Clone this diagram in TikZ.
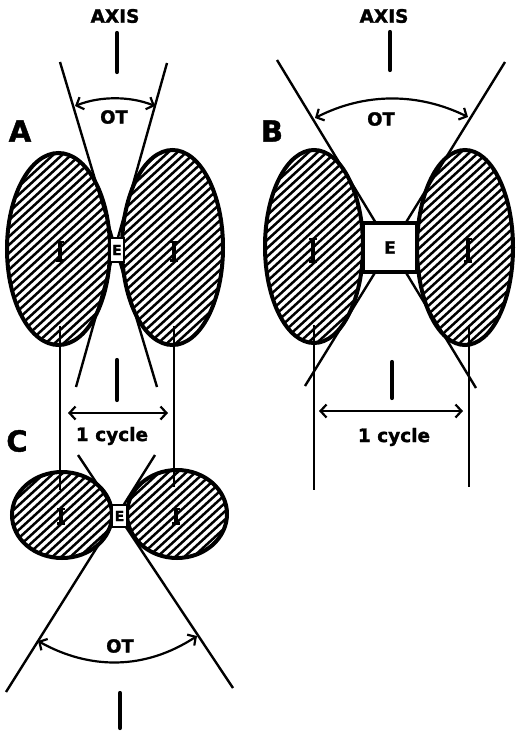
\documentclass[tikz,border=0pt]{standalone}
\usepackage{fontspec}
\setmainfont{DejaVu Sans}[BoldFeatures={FakeBold=1.5}]
\usetikzlibrary{arrows.meta}
\newcommand\hatchlobe[4]{%
  \begin{scope}[shift={(#1,#2)}]
    \begin{scope}
      \clip (0,0) ellipse ({#3} and {#4});
      \foreach \s in {-153,-144,...,153} \draw[hatch] (\s-120,110) -- (\s+120,-110);
    \end{scope}
    \draw[outline] (0,0) ellipse ({#3} and {#4});
  \end{scope}}
\newcommand\imark[3]{%
  \draw[line width=3.6pt] (#1,{#2-#3}) -- (#1,{#2+#3});
  \draw[line width=2.4pt] ({#1-4},{#2-#3+1.2}) -- ({#1+4},{#2-#3+1.2});
  \draw[line width=2.4pt] ({#1-4},{#2+#3-1.2}) -- ({#1+4},{#2+#3-1.2});}
\begin{document}
\begin{tikzpicture}[x=1pt,y=-1pt,
  outline/.style={line width=4pt},
  hatch/.style={line width=2.5pt},
  tline/.style={line width=2.4pt},
  tick/.style={line width=4.2pt, line cap=round},
  dimarrow/.style={line width=2.2pt, {Straight Barb[length=6pt,width=13pt]}-{Straight Barb[length=6pt,width=13pt]}},
  lab/.style={font=\bfseries\fontsize{29}{29}\selectfont, inner sep=0pt},
  txt/.style={font=\bfseries\fontsize{18.5}{18.5}\selectfont, inner sep=0pt},
  ottxt/.style={font=\bfseries\fontsize{18}{18}\selectfont, inner sep=0pt},
  ebox/.style={draw, fill=white, line width=2.6pt, inner sep=0pt},
]
\useasboundingbox (0,0) rectangle (515,732);

% ---------- Panel A ----------
\node[txt] (axisA) at (115,16) {AXIS};
\coordinate (tA1) at (117,33); \coordinate (tA2) at (117,72);
\draw[tick] (tA1) -- (tA2);
\node[lab] (labA) at (20,131) {A};
\hatchlobe{58.5}{249}{51.5}{96}
\hatchlobe{172.5}{247.5}{50.5}{97.5}
\coordinate (a1s) at (60,62);  \coordinate (a1e) at (157,387);
\coordinate (a2s) at (167,63); \coordinate (a2e) at (76,387);
\draw[tline] (a1s) -- (a1e);
\draw[tline] (a2s) -- (a2e);
\coordinate (va1) at (60,326);  \coordinate (va1e) at (60,490);
\coordinate (va2) at (174,326); \coordinate (va2e) at (174,487);
\draw[tline] (va1) -- (va1e);
\draw[tline] (va2) -- (va2e);
\node[ebox, minimum width=14pt, minimum height=24pt, font=\bfseries\fontsize{14}{14}\selectfont] (EA) at (117,250) {E};
\imark{60}{251}{10.5}
\imark{174}{251}{10.5}
\coordinate (otA1) at (75,106); \coordinate (otA2) at (155,106);
\draw[dimarrow] (otA1) .. controls (100,96) and (130,96) .. (otA2);
\node[ottxt] (otAt) at (114,117) {OT};
\coordinate (tA3) at (117,360); \coordinate (tA4) at (117,400);
\draw[tick] (tA3) -- (tA4);
\coordinate (cyA1) at (68,413); \coordinate (cyA2) at (168,413);
\draw[dimarrow] (cyA1) -- (cyA2);
\node[txt] (cycA) at (112,436) {1 cycle};

% ---------- Panel B ----------
\node[txt] (axisB) at (384,16) {AXIS};
\coordinate (tB1) at (390,32); \coordinate (tB2) at (390,70);
\draw[tick] (tB1) -- (tB2);
\node[lab] (labB) at (272,131) {B};
\hatchlobe{314}{246.5}{49}{96.5}
\hatchlobe{465}{247.5}{48}{97.5}
\coordinate (b1s) at (277,60);  \coordinate (b1e) at (476,388);
\coordinate (b2s) at (505,62);  \coordinate (b2e) at (305,386);
\draw[tline] (b1s) -- (b1e);
\draw[tline] (b2s) -- (b2e);
\coordinate (vb1) at (314,325);  \coordinate (vb1e) at (314,490);
\coordinate (vb2) at (469,325);  \coordinate (vb2e) at (469,487);
\draw[tline] (vb1) -- (vb1e);
\draw[tline] (vb2) -- (vb2e);
\node[ebox, line width=3.2pt, minimum width=54pt, minimum height=49pt, font=\bfseries\fontsize{17}{17}\selectfont] (EB) at (390,247.5) {E};
\imark{313}{250}{12.5}
\imark{468}{250}{12.5}
\coordinate (otB1) at (315,118); \coordinate (otB2) at (468,117);
\draw[dimarrow] (otB1) .. controls (365,92.5) and (418,92.5) .. (otB2);
\node[ottxt] (otBt) at (381,119) {OT};
\coordinate (tB3) at (392,362); \coordinate (tB4) at (392,398);
\draw[tick] (tB3) -- (tB4);
\coordinate (cyB1) at (319,411); \coordinate (cyB2) at (463,411);
\draw[dimarrow] (cyB1) -- (cyB2);
\node[txt] (cycB) at (394,437) {1 cycle};

% ---------- Panel C ----------
\node[lab] (labC) at (17,441) {C};
\hatchlobe{62}{515}{50}{43}
\hatchlobe{177}{514}{50}{44}
\coordinate (c1s) at (78,455);  \coordinate (c1e) at (233,688);
\coordinate (c2s) at (155,455); \coordinate (c2e) at (6,692);
\draw[tline] (c1s) -- (c1e);
\draw[tline] (c2s) -- (c2e);
\node[ebox, minimum width=15pt, minimum height=22pt, font=\bfseries\fontsize{14}{14}\selectfont] (EC) at (119.5,516) {E};
\imark{61}{516}{8.5}
\imark{176}{516}{8.5}
\coordinate (otC1) at (38,641); \coordinate (otC2) at (197,636);
\draw[dimarrow] (otC1) .. controls (90,670) and (145,670) .. (otC2);
\node[ottxt] (otCt) at (120,646) {OT};
\coordinate (tC1) at (120,693); \coordinate (tC2) at (120,728);
\draw[tick] (tC1) -- (tC2);
\end{tikzpicture}
\end{document}
